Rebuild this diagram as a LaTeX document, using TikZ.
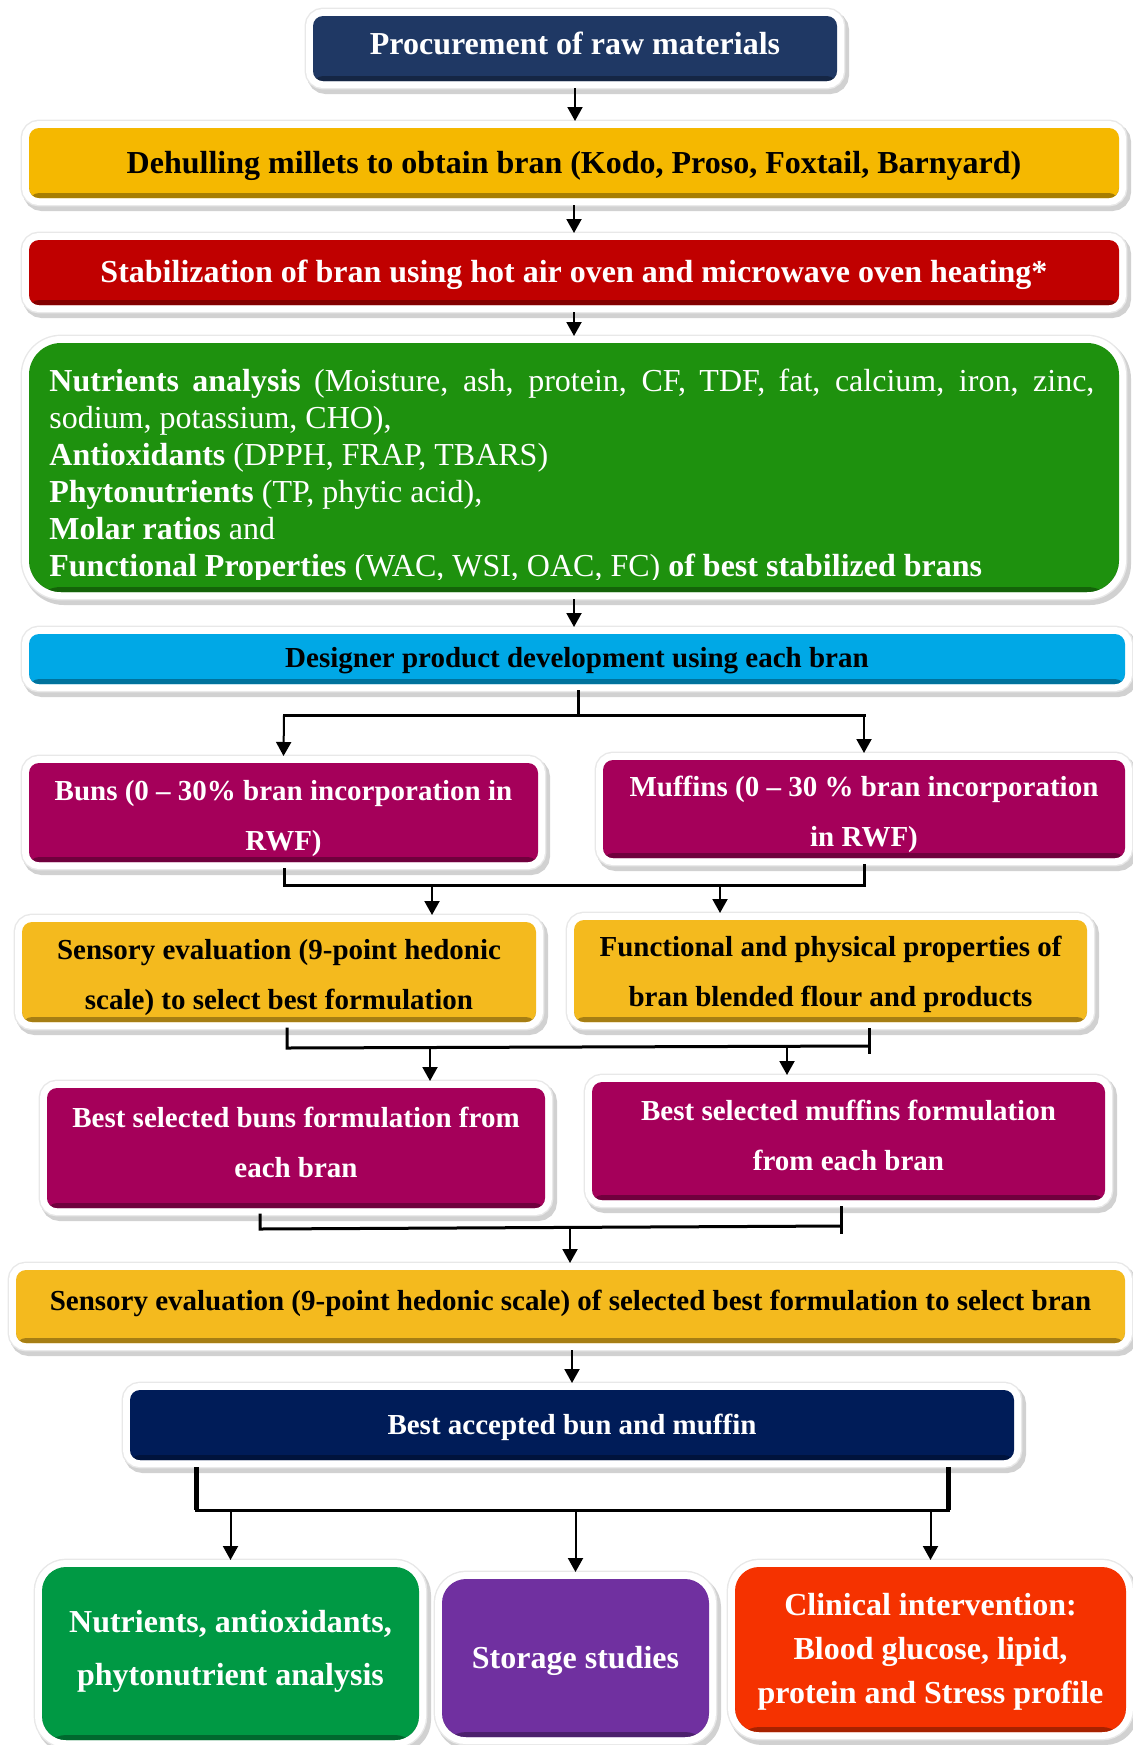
\documentclass[tikz,border=0pt]{standalone}
\usepackage{fontspec}
\setmainfont{Liberation Serif}
\usetikzlibrary{arrows.meta}
\definecolor{cProc}{RGB}{31,56,100}
\definecolor{cGold}{RGB}{245,184,0}
\definecolor{cRed}{RGB}{192,0,0}
\definecolor{cGreen}{RGB}{30,145,14}
\definecolor{cSky}{RGB}{0,168,230}
\definecolor{cMag}{RGB}{165,0,90}
\definecolor{cGoldB}{RGB}{244,186,30}
\definecolor{cNavy}{RGB}{0,28,88}
\definecolor{cGreenB}{RGB}{0,153,68}
\definecolor{cPurple}{RGB}{112,48,160}
\definecolor{cOrange}{RGB}{245,50,0}
\newcommand\fA{\fontsize{16}{19}\selectfont\bfseries}
\newcommand\fB{\fontsize{14.5}{25}\selectfont\bfseries}
\begin{document}
\begin{tikzpicture}[x=0.5pt,y=-0.5pt,
  box/.style={rounded corners=5pt, fill=#1, inner sep=0pt, outer sep=3.5pt,
    preaction={draw=black!18, line width=9pt, transform canvas={xshift=1.5pt,yshift=-2pt}},
    preaction={draw=black!9, line width=8.4pt},
    preaction={draw=white, line width=7pt},
    path picture={\fill[#1!68!black] ([yshift=2.5pt]path picture bounding box.south west) rectangle (path picture bounding box.south east);}},
  lbl/.style={inner sep=0pt, align=center},
  gl/.style={anchor=base west, inner sep=0pt, text=white, font=\fontsize{16}{18.5}\selectfont},
  arr/.style={-{Triangle[length=7pt,width=7.5pt]}, line width=1pt},
  brk/.style={line width=1.5pt, line cap=rect},
  brkw/.style={line width=2.5pt}]
\useasboundingbox (0,0) rectangle (1132,1745);

% boxes
\node[box=cProc, minimum width=262pt, minimum height=32.5pt] (proc) at (575,48.5) {};
\node[box=cGold, minimum width=545pt, minimum height=35pt] (dehull) at (574,163) {};
\node[box=cRed, minimum width=545pt, minimum height=32.5pt] (stab) at (574,272.5) {};
\node[box=cGreen, rounded corners=16pt, minimum width=545pt, minimum height=124.5pt] (grn) at (574,467.5) {};
\node[box=cSky, minimum width=548pt, minimum height=25pt] (des) at (577,659) {};
\node[box=cMag, minimum width=254.5pt, minimum height=49.5pt] (buns) at (283.5,812.5) {};
\node[box=cMag, minimum width=261pt, minimum height=49pt] (muf) at (864,809) {};
\node[box=cGoldB, minimum width=257pt, minimum height=50pt] (sensL) at (279,972) {};
\node[box=cGoldB, minimum width=256.5pt, minimum height=51pt] (func) at (830.5,971) {};
\node[box=cMag, minimum width=249pt, minimum height=60pt] (bestB) at (296,1148) {};
\node[box=cMag, minimum width=256.5pt, minimum height=59pt] (bestM) at (848.5,1141) {};
\node[box=cGoldB, minimum width=554.5pt, minimum height=36.5pt] (sensBig) at (570.5,1306.5) {};
\node[box=cNavy, minimum width=442pt, minimum height=35pt] (acc) at (572,1425) {};
\node[box=cGreenB, rounded corners=12pt, minimum width=188.5pt, minimum height=86.5pt] (nut) at (230.5,1653.5) {};
\node[box=cPurple, rounded corners=12pt, minimum width=133.5pt, minimum height=79pt] (sto) at (575.5,1658) {};
\node[box=cOrange, rounded corners=12pt, minimum width=195.5pt, minimum height=82.5pt] (clin) at (930.5,1649.5) {};

% texts
\node[lbl, text=white, font=\fA] (procT) at (575,43) {Procurement of raw materials};
\node[lbl, text=black, font=\fA] (dehullT) at (574,166) {Dehulling millets to obtain bran (Kodo, Proso, Foxtail, Barnyard)};
\node[lbl, text=white, font=\fA] (stabT) at (574,275) {Stabilization of bran using hot air oven and microwave oven heating*};
\begin{scope}
\clip (29,343) rectangle (1119,579);
\node[gl] (g1) at (49,391) {\makebox[522.5pt][s]{\textbf{Nutrients analysis} (Moisture, ash, protein, CF, TDF, fat, calcium, iron, zinc,}};
\node[gl] (g2) at (49,428) {sodium, potassium, CHO),};
\node[gl] (g3) at (49,465) {\textbf{Antioxidants} (DPPH, FRAP, TBARS)};
\node[gl] (g4) at (49,502) {\textbf{Phytonutrients} (TP, phytic acid),};
\node[gl] (g5) at (49,539) {\textbf{Molar ratios} and};
\node[gl] (g6) at (49,576) {\textbf{Functional Properties} (WAC, WSI, OAC, FC) \textbf{of best stabilized brans}};
\end{scope}
\node[lbl, text=black, font=\fB] (desT) at (577,661) {Designer product development using each bran};
\node[lbl, text=white, font=\fB] (bunsT) at (283.5,819) {Buns (0 \textendash{} 30\% bran incorporation in\\RWF)};
\node[lbl, text=white, font=\fB] (mufT) at (864,814) {Muffins (0 \textendash{} 30 \% bran incorporation\\in RWF)};
\node[lbl, text=black, font=\fB] (sensLT) at (279,977.5) {Sensory evaluation (9-point hedonic\\scale) to select best formulation};
\node[lbl, text=black, font=\fB] (funcT) at (830.5,974.5) {Functional and physical properties of\\bran blended flour and products};
\node[lbl, text=white, font=\fB] (bestBT) at (296,1142) {Best selected buns formulation from\\each bran};
\node[lbl, text=white, font=\fB] (bestMT) at (848.5,1135.5) {Best selected muffins formulation\\from each bran};
\node[lbl, text=black, font=\fB] (sensBigT) at (570.5,1303) {Sensory evaluation (9-point hedonic scale) of selected best formulation to select bran};
\node[lbl, text=white, font=\fB] (accT) at (572,1427) {Best accepted bun and muffin};
\node[lbl, text=white, font=\fontsize{16}{26.5}\selectfont\bfseries] (nutT) at (230.5,1651.5) {Nutrients, antioxidants,\\phytonutrient analysis};
\node[lbl, text=white, font=\fA] (stoT) at (575.5,1661) {Storage studies};
\node[lbl, text=white, font=\fontsize{16}{22}\selectfont\bfseries] (clinT) at (930.5,1652) {Clinical intervention:\\Blood glucose, lipid,\\protein and Stress profile};

% simple arrows
\draw[arr] (proc.south) -- (proc.south |- dehull.north);
\draw[arr] (dehull.south) -- (dehull.south |- stab.north);
\draw[arr] (stab.south) -- (stab.south |- grn.north);
\draw[arr] (grn.south) -- (grn.south |- des.north);

% branch 1
\coordinate (j1) at (578,715);
\coordinate (j1l) at (284,715);
\coordinate (j1r) at (864,715);
\draw[brk] (j1 |- des.south) -- (j1);
\draw[brk] (j1l) -- (j1r);
\draw[arr] (j1l) -- (buns.north);
\draw[arr] (j1r) -- (muf.north);

% merge 2
\coordinate (j2l) at (284,885);
\coordinate (j2r) at (864,885);
\coordinate (j2a) at (432,885);
\coordinate (j2b) at (720,885);
\draw[brk] (j2l |- buns.south) -- (j2l) -- (j2r) -- (j2r |- muf.south);
\draw[arr] (j2a) -- (j2a |- sensL.north);
\draw[arr] (j2b) -- (j2b |- func.north);

% merge 3
\coordinate (j3l) at (287,1048);
\coordinate (j3r) at (869,1046);
\coordinate (j3e) at (869,1052);
\coordinate (j3a) at (430,1048);
\coordinate (j3b) at (787,1047);
\draw[brk] (j3l |- sensL.south) -- (j3l) -- (j3r);
\draw[brk] (j3r |- func.south) -- (j3e);
\draw[arr] (j3a) -- (j3a |- bestB.north);
\draw[arr] (j3b) -- (j3b |- bestM.north);

% merge 4
\coordinate (j4l) at (260,1229);
\coordinate (j4r) at (841,1226);
\coordinate (j4e) at (841,1232);
\coordinate (j4a) at (570,1228);
\draw[brk] (j4l |- bestB.south) -- (j4l) -- (j4r);
\draw[brk] (j4r |- bestM.south) -- (j4e);
\draw[arr] (j4a) -- (j4a |- sensBig.north);

\draw[arr] (acc.north |- sensBig.south) -- (acc.north);

% branch 5
\coordinate (j5l) at (196,1510);
\coordinate (j5r) at (948,1510);
\draw[brkw] (j5l |- acc.south) -- (j5l);
\draw[brkw] (j5r |- acc.south) -- (j5r);
\draw[brk] (j5l) -- (j5r);
\draw[arr] (nut.north |- j5l) -- (nut.north);
\draw[arr] (sto.north |- j5l) -- (sto.north);
\draw[arr] (clin.north |- j5l) -- (clin.north);
\end{tikzpicture}
\end{document}
